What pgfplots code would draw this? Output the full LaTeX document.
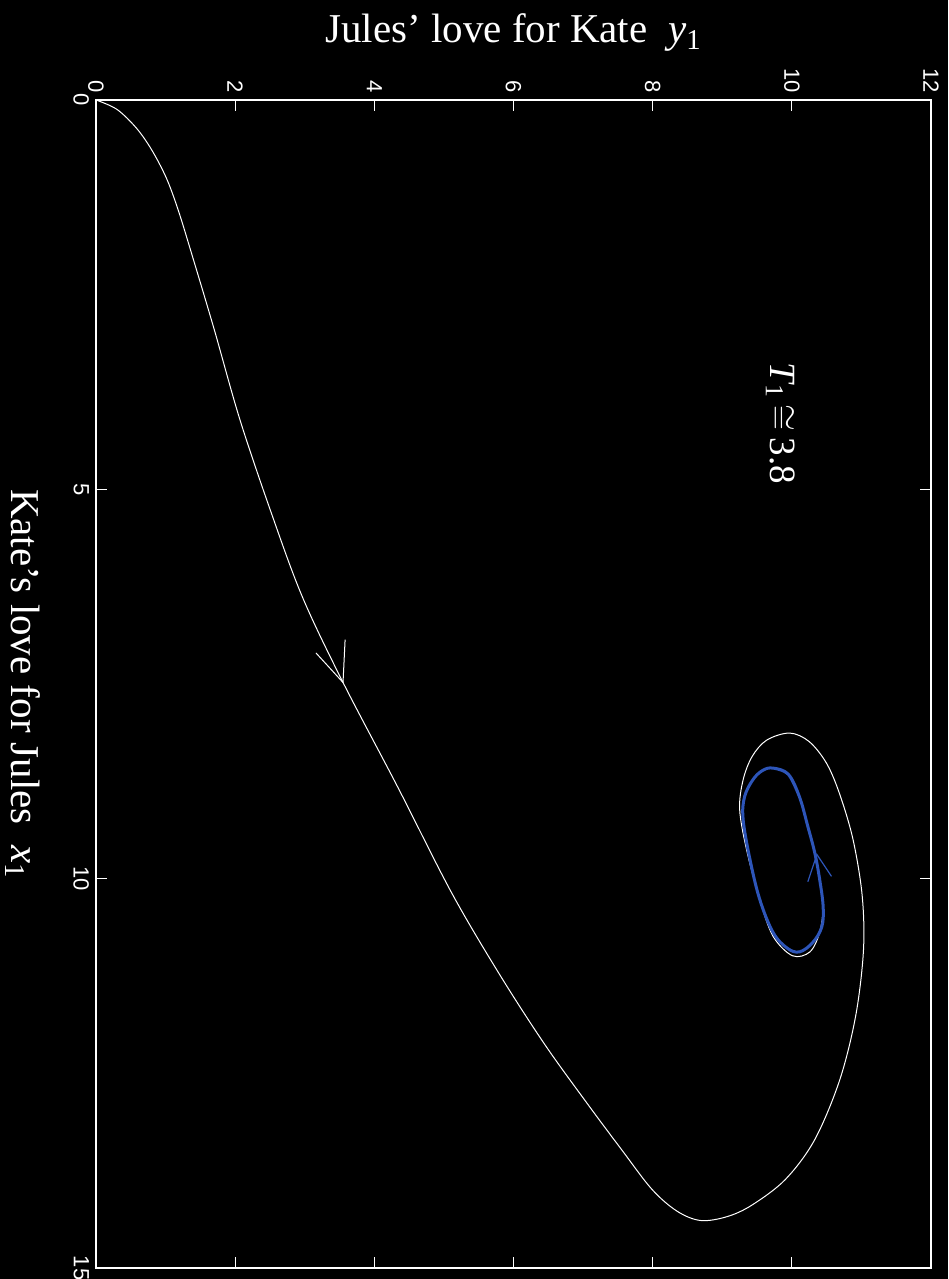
\documentclass[border=0pt]{standalone}
\usepackage{fontspec}
\setmainfont{Liberation Serif}
\setsansfont{Liberation Sans}
\usepackage{pgfplots}
\pgfplotsset{compat=1.18}
\definecolor{cyc}{RGB}{45,85,185}
\begin{document}
\begin{tikzpicture}
\path[use as bounding box, fill=black] (-48pt,-5.5pt) rectangle (426pt,634pt);
\begin{axis}[
  scale only axis, width=417.5pt, height=584pt,
  xmin=0, xmax=12, ymin=0, ymax=15, y dir=reverse,
  xtick={0,2,...,12}, ytick={0,5,10,15},
  xticklabel pos=upper, yticklabel pos=left,
  axis line style={white, line width=0.6pt},
  tick style={white, line width=0.6pt},
  major tick length=5.5pt,
  tick align=inside,
  /pgf/number format/assume math mode=true,
  tick label style={white, font=\sffamily\fontsize{11}{12}\selectfont},
  xticklabel style={rotate=-90, anchor=east},
  yticklabel style={rotate=-90, anchor=north},
  xlabel={Jules’ love for Kate\ \ \textit{y}\textsubscript{1}},
  ylabel={Kate’s love for Jules\ \ \textit{x}\textsubscript{1}},
  every axis x label/.style={at={(axis description cs:0.5,1)}, anchor=base, yshift=28.5pt, white, font=\fontsize{20.5}{24}\selectfont},
  every axis y label/.style={at={(axis description cs:0,0.5)}, xshift=-42pt, rotate=-90, anchor=base, white, font=\fontsize{20.5}{24}\selectfont},
  clip=false,
]
\addplot[white, line width=0.5pt, smooth, tension=0.55] coordinates {
(0,0) (0.30,0.12) (0.58,0.36) (0.80,0.64) (1.01,1.00) (1.18,1.41) (1.38,1.99) (1.70,2.95)
(2.07,4.11) (2.53,5.33) (2.97,6.39) (3.55,7.48) (4.34,8.83) (5.11,10.18) (5.80,11.23)
(6.45,12.13) (7.07,12.90) (7.57,13.50) (7.99,13.99) (8.35,14.27) (8.69,14.39) (9.07,14.34)
(9.43,14.19) (9.91,13.86) (10.33,13.35) (10.69,12.58) (10.92,11.75) (11.03,10.91) (11.01,10.21)
(10.88,9.50) (10.69,8.92) (10.50,8.52) (10.25,8.24) (9.97,8.13) (9.64,8.22) (9.43,8.43) (9.30,8.73)
(9.25,9.11) (9.35,9.63) (9.54,10.27) (9.73,10.74) (10.01,10.99) (10.26,10.94) (10.40,10.69)
(10.45,10.36) (10.40,10.01) (10.33,9.67)
};
\addplot[cyc, line width=1.5pt, smooth, tension=0.6] coordinates {
(9.73,8.58) (9.95,8.66) (10.11,8.95) (10.23,9.33) (10.33,9.67) (10.40,10.01) (10.45,10.36)
(10.43,10.62) (10.30,10.82) (10.11,10.94) (9.93,10.89) (9.73,10.69) (9.54,10.27) (9.40,9.76)
(9.30,9.24) (9.32,8.95) (9.44,8.73) (9.58,8.61) (9.73,8.58) (9.95,8.66) (10.11,8.95)
};
\addplot[white, line width=0.5pt] coordinates {(3.16,7.10) (3.55,7.48) (3.58,6.93)};
\addplot[cyc, line width=0.6pt] coordinates {(10.23,10.04) (10.36,9.69) (10.57,9.97)};
\node[white, rotate=-90, font=\fontsize{18.5}{22}\selectfont] at (axis cs:9.84,4.15)
  {\textit{T}\textsubscript{1}\,$\cong$\,3.8};
\end{axis}
\end{tikzpicture}
\end{document}
